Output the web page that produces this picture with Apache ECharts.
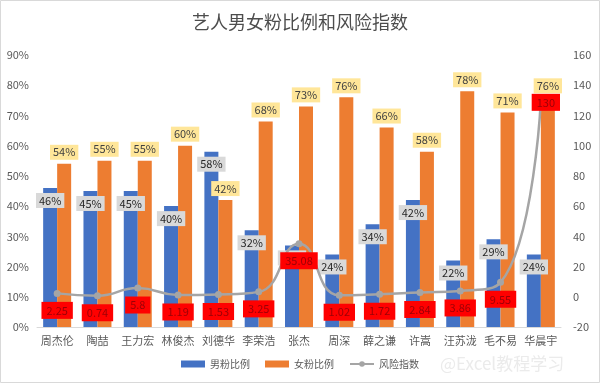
<!DOCTYPE html>
<html><head><meta charset="utf-8">
<script src="https://cdn.jsdelivr.net/npm/echarts@6/dist/echarts.min.js"></script>
<style>html,body{margin:0;padding:0;background:#fff}#c{width:600px;height:383px}</style>
</head><body><div id="c"></div>
<script>
const categories = ['周杰伦','陶喆','王力宏','林俊杰','刘德华','李荣浩','张杰','周深','薛之谦','许嵩','汪苏泷','毛不易','华晨宇'];
const maleRatio = [46,45,45,40,58,32,27,24,34,42,22,29,24];
const femaleRatio = [54,55,55,60,42,68,73,76,66,58,78,71,76];
const riskIndex = [2.25,0.74,5.8,1.19,1.53,3.25,35.08,1.02,1.72,2.84,3.86,9.55,130];
const leftTicks = {min:0, max:90, interval:10};
const rightTicks = {min:-20, max:160, interval:20};

const font = '"Noto Sans CJK SC", "Noto Sans", sans-serif';
const chart = echarts.init(document.getElementById('c'), null, {renderer:'canvas'});
const riskData = riskIndex.map((v,i) => {
  if (i === riskIndex.length - 1) return {value:v, label:{position:'inside', offset:[5,2]}};
  return v;
});
chart.setOption({
  animation:false,
  textStyle:{fontFamily:font},
  title:{text:'艺人男女粉比例和风险指数', left:'center', top:8,
    textStyle:{fontFamily:font, fontSize:18, fontWeight:'normal', color:'#4d4d4d'}},
  graphic:[
    {type:'rect', shape:{x:0.5,y:0.5,width:599,height:382}, style:{fill:'none', stroke:'#d9d9d9', lineWidth:1}, silent:true},
    {type:'text', left:440, top:355, style:{text:'@Excel教程学习', fill:'#ebebeb', font:'17px "Noto Sans CJK SC", sans-serif'}, silent:true, z:100}
  ],
  legend:{bottom:9, left:'center', itemGap:15, itemWidth:24, itemHeight:7,
    textStyle:{fontFamily:font, fontSize:10, color:'#595959'},
    data:[{name:'男粉比例', icon:'rect'},{name:'女粉比例', icon:'rect'},{name:'风险指数'}]},
  grid:{left:37, right:39, top:55, bottom:56},
  xAxis:{type:'category', data:categories,
    axisLine:{lineStyle:{color:'#d9d9d9'}}, axisTick:{show:false},
    axisLabel:{color:'#595959', fontSize:11, margin:8, interval:0}},
  yAxis:[
    {type:'value', min:leftTicks.min, max:leftTicks.max, interval:leftTicks.interval,
      axisLabel:{formatter:'{value}%', color:'#595959', fontSize:11},
      splitLine:{show:false}, axisLine:{show:false}, axisTick:{show:false}},
    {type:'value', min:rightTicks.min, max:rightTicks.max, interval:rightTicks.interval,
      axisLabel:{color:'#595959', fontSize:11, margin:12},
      splitLine:{show:false}, axisLine:{show:false}, axisTick:{show:false}}
  ],
  series:[
    {name:'男粉比例', type:'bar', data:maleRatio, barWidth:14, barGap:'0%',
      itemStyle:{color:'#4472c4'},
      label:{show:true, position:'insideTop', distance:5, formatter:'{c}%',
        backgroundColor:'#d9d9d9', color:'#262626', fontSize:11, padding:[2,3]}},
    {name:'女粉比例', type:'bar', data:femaleRatio, barWidth:14,
      itemStyle:{color:'#ed7d31'},
      label:{show:true, position:'top', distance:4, formatter:'{c}%',
        backgroundColor:'#ffe699', color:'#404040', fontSize:11, padding:[2,3]}},
    {name:'风险指数', type:'line', yAxisIndex:1, data:riskData, smooth:true,
      symbol:'circle', symbolSize:7, z:5,
      lineStyle:{color:'#a5a5a5', width:2.5}, itemStyle:{color:'#a5a5a5'},
      label:{show:true, position:'bottom', distance:5,
        backgroundColor:'#ff0000', color:'#9c0006', fontSize:11, padding:[3,5]}}
  ]
});
</script></body></html>
